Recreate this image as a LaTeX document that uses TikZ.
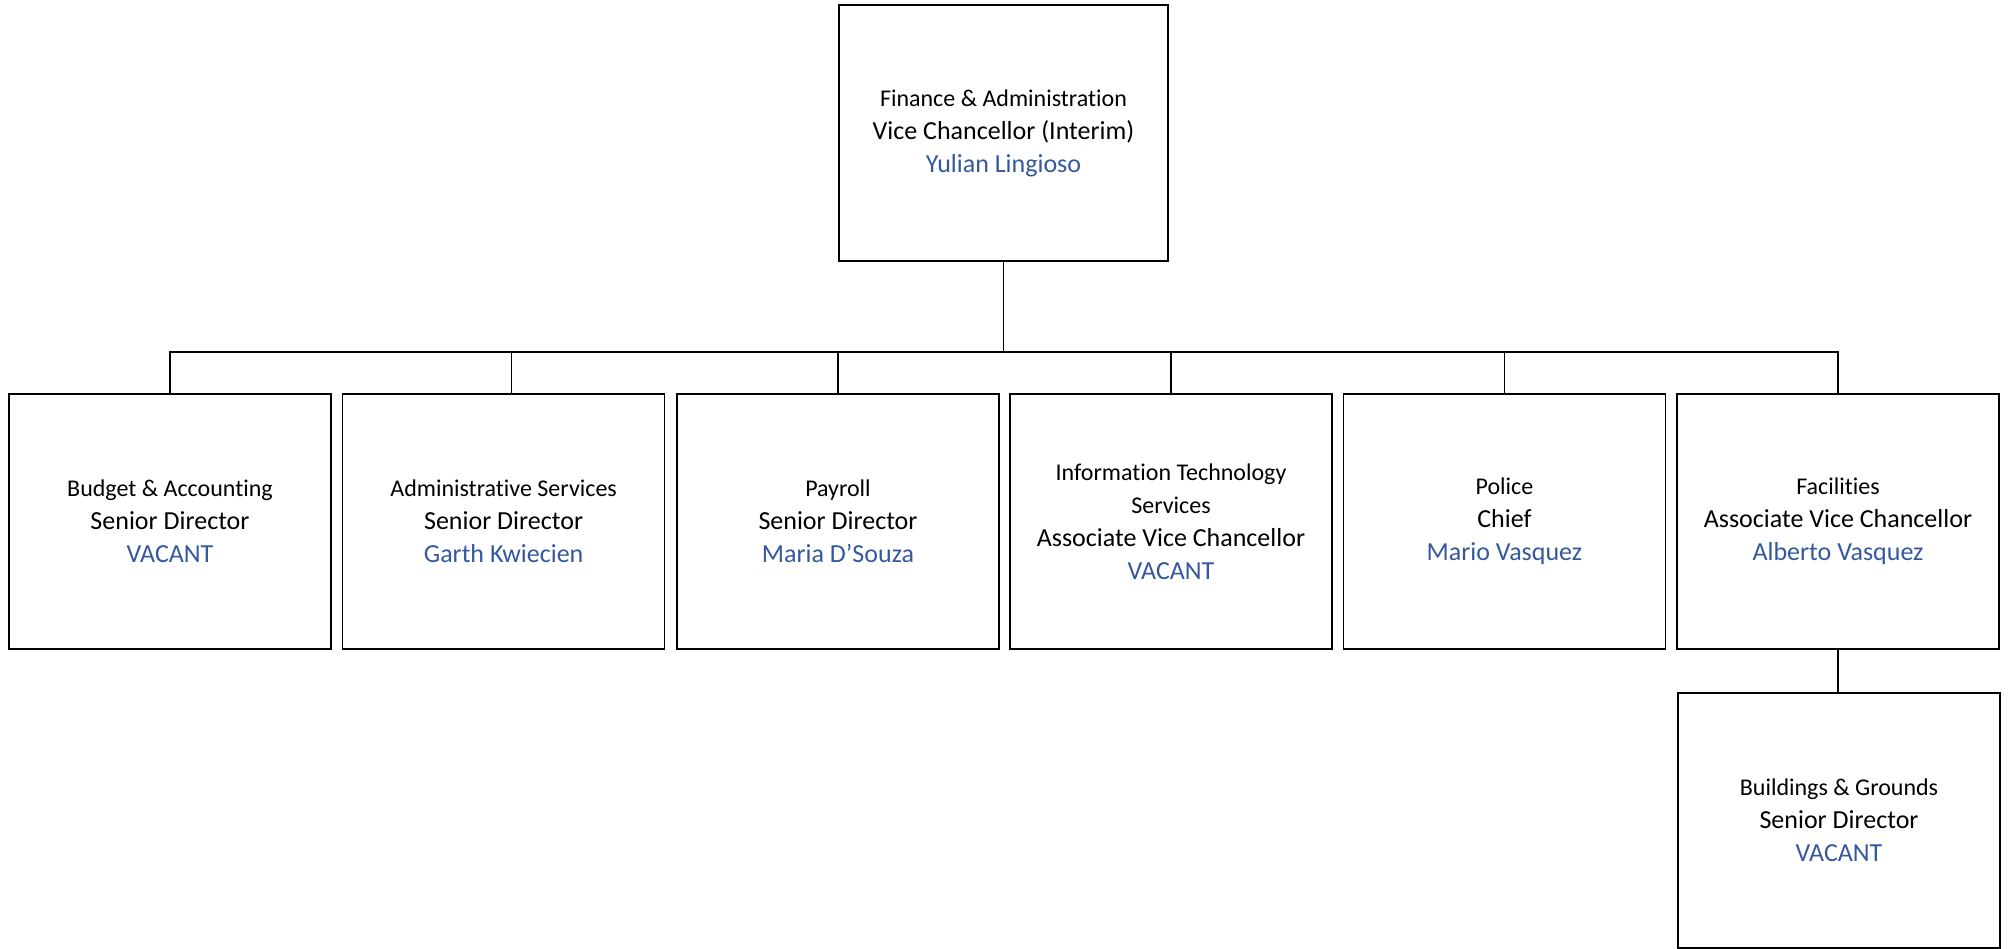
\documentclass[tikz,border=0pt]{standalone}
\usepackage{fontspec}
\setmainfont{Carlito}[Ligatures=NoCommon]
\definecolor{namecol}{RGB}{52,88,158}
\newcommand{\unitline}[1]{{\fontsize{24}{33}\selectfont #1}}
\newcommand{\nameline}[1]{{\color{namecol}#1}}

\begin{document}
\begin{tikzpicture}[x=1pt,y=-1pt,
    post/.style={draw,line width=1.5pt,minimum width=322pt,minimum height=255pt,
      inner sep=0pt,align=center,font=\fontsize{26}{33}\selectfont},
    topbox/.style={post,minimum width=329pt,minimum height=256pt},
    link/.style={line width=1.4pt}]
  % Frame
  \useasboundingbox (0,0) rectangle (2011,949);

  % Top
  \node[topbox] (vc) at (1003.5,133) {\unitline{Finance \& Administration}\\Vice Chancellor (Interim)\\\nameline{Yulian Lingioso}};

  % Units
  \node[post] (budget) at (170,521.5) {\unitline{Budget \& Accounting}\\Senior Director\\\nameline{VACANT}};
  \node[post] (admin) at (503.6,521.5) {\unitline{Administrative Services}\\Senior Director\\\nameline{Garth Kwiecien}};
  \node[post] (payroll) at (838,521.5) {\unitline{Payroll}\\Senior Director\\\nameline{Maria D’Souza}};
  \node[post] (its) at (1171,521.5) {\unitline{Information Technology}\\\unitline{Services}\\Associate Vice Chancellor\\\nameline{VACANT}};
  \node[post] (police) at (1504.4,521.5) {\unitline{Police}\\Chief\\\nameline{Mario Vasquez}};
  \node[post] (facil) at (1838,521.5) {\unitline{Facilities}\\Associate Vice Chancellor\\\nameline{Alberto Vasquez}};
  \node[post] (bldg) at (1839,820.5) {\unitline{Buildings \& Grounds}\\Senior Director\\\nameline{VACANT}};

  % Lines
  \coordinate (bar) at (1003.5,352);
  \draw[link] (vc.south) -- (bar);
  \draw[link] (budget.north) |- (bar) -| (facil.north);
  \draw[link] ([xshift=8pt]admin.north) -- ([xshift=8pt]admin.north |- bar);
  \foreach \u in {payroll,its,police}
    \draw[link] (\u.north) -- (\u.north |- bar);
  \draw[link] (facil.south) -- (facil.south |- bldg.north);
\end{tikzpicture}
\end{document}
